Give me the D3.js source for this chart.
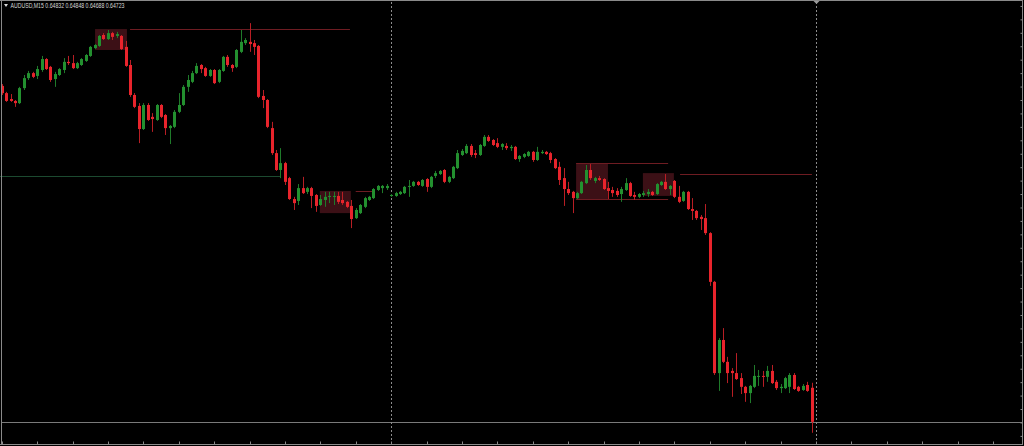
<!DOCTYPE html>
<html><head><meta charset="utf-8">
<script src="https://cdn.jsdelivr.net/npm/d3@7/dist/d3.min.js"></script>
<style>html,body{margin:0;padding:0;background:#000;overflow:hidden}</style>
</head><body><svg id="c" width="1024" height="446"></svg>
<script>
const symbol = "AUDUSD,M15";
const open = [
0.65798,0.65775,0.65756,0.65750,0.65743,0.65791,0.65823,0.65839,0.65830,0.65849,
0.65884,0.65859,0.65820,0.65833,0.65849,0.65875,0.65871,0.65855,0.65865,0.65878,
0.65894,0.65919,0.65926,0.65961,0.65948,0.65967,0.65958,0.65958,0.65923,0.65865,
0.65769,0.65734,0.65660,0.65737,0.65699,0.65689,0.65737,0.65705,0.65663,0.65667,
0.65715,0.65737,0.65795,0.65811,0.65839,0.65865,0.65855,0.65830,0.65849,0.65811,
0.65846,0.65891,0.65865,0.65859,0.65907,0.65935,0.65939,0.65935,0.65926,0.65766,
0.65753,0.65663,0.65583,0.65529,0.65551,0.65503,0.65436,0.65430,0.65471,0.65459,
0.65471,0.65449,0.65417,0.65433,0.65443,0.65443,0.65446,0.65433,0.65427,0.65414,
0.65375,0.65391,0.65411,0.65433,0.65439,0.65465,0.65471,0.65471,0.65446,0.65446,
0.65452,0.65455,0.65475,0.65478,0.65491,0.65478,0.65500,0.65475,0.65510,0.65516,
0.65529,0.65491,0.65503,0.65535,0.65577,0.65583,0.65606,0.65583,0.65577,0.65606,
0.65635,0.65625,0.65615,0.65603,0.65606,0.65599,0.65603,0.65564,0.65571,0.65574,
0.65587,0.65561,0.65583,0.65587,0.65583,0.65564,0.65539,0.65503,0.65468,0.65459,
0.65439,0.65455,0.65487,0.65529,0.65494,0.65503,0.65500,0.65471,0.65465,0.65462,
0.65452,0.65465,0.65487,0.65449,0.65443,0.65449,0.65452,0.65459,0.65452,0.65481,
0.65491,0.65468,0.65494,0.65443,0.65430,0.65459,0.65404,0.65398,0.65379,0.65375,
0.65327,0.65171,0.64879,0.64985,0.64915,0.64886,0.64879,0.64863,0.64835,0.64815,
0.64835,0.64867,0.64870,0.64867,0.64886,0.64851,0.64831,0.64831,0.64835,0.64873,
0.64835,0.64825,0.64841,0.64832];
const high = [
0.65804,0.65779,0.65772,0.65753,0.65795,0.65833,0.65846,0.65843,0.65862,0.65894,
0.65887,0.65862,0.65843,0.65855,0.65887,0.65894,0.65897,0.65875,0.65887,0.65900,
0.65926,0.65932,0.65961,0.65967,0.65977,0.65971,0.65971,0.65961,0.65942,0.65881,
0.65775,0.65743,0.65743,0.65743,0.65711,0.65740,0.65740,0.65708,0.65673,0.65721,
0.65775,0.65801,0.65833,0.65846,0.65871,0.65868,0.65859,0.65852,0.65852,0.65852,
0.65894,0.65897,0.65868,0.65916,0.65977,0.65951,0.65999,0.65945,0.65929,0.65785,
0.65756,0.65683,0.65593,0.65599,0.65555,0.65507,0.65443,0.65484,0.65507,0.65475,
0.65475,0.65452,0.65449,0.65459,0.65459,0.65459,0.65459,0.65459,0.65430,0.65433,
0.65407,0.65420,0.65443,0.65446,0.65471,0.65481,0.65481,0.65484,0.65452,0.65459,
0.65462,0.65478,0.65497,0.65494,0.65494,0.65500,0.65503,0.65510,0.65526,0.65529,
0.65532,0.65510,0.65542,0.65593,0.65596,0.65612,0.65612,0.65593,0.65612,0.65641,
0.65641,0.65628,0.65631,0.65615,0.65615,0.65609,0.65606,0.65577,0.65583,0.65590,
0.65590,0.65603,0.65593,0.65590,0.65587,0.65567,0.65555,0.65535,0.65491,0.65462,
0.65459,0.65494,0.65545,0.65548,0.65507,0.65510,0.65503,0.65491,0.65475,0.65471,
0.65475,0.65503,0.65491,0.65459,0.65455,0.65462,0.65468,0.65462,0.65487,0.65494,
0.65516,0.65481,0.65497,0.65478,0.65462,0.65462,0.65439,0.65401,0.65385,0.65420,
0.65330,0.65174,0.64991,0.65023,0.64931,0.64895,0.64943,0.64879,0.64838,0.64841,
0.64905,0.64889,0.64886,0.64902,0.64905,0.64857,0.64844,0.64867,0.64879,0.64879,
0.64838,0.64844,0.64851,0.64848];
const low = [
0.65769,0.65747,0.65747,0.65731,0.65740,0.65785,0.65817,0.65823,0.65820,0.65843,
0.65849,0.65811,0.65795,0.65830,0.65839,0.65865,0.65852,0.65852,0.65862,0.65875,
0.65891,0.65916,0.65923,0.65945,0.65945,0.65945,0.65951,0.65913,0.65859,0.65763,
0.65727,0.65615,0.65657,0.65686,0.65651,0.65686,0.65695,0.65641,0.65612,0.65663,
0.65711,0.65734,0.65779,0.65807,0.65836,0.65839,0.65827,0.65827,0.65804,0.65807,
0.65843,0.65859,0.65843,0.65855,0.65903,0.65929,0.65907,0.65897,0.65759,0.65727,
0.65663,0.65577,0.65526,0.65503,0.65481,0.65433,0.65401,0.65417,0.65452,0.65452,
0.65407,0.65395,0.65414,0.65411,0.65423,0.65417,0.65420,0.65417,0.65407,0.65343,
0.65372,0.65388,0.65407,0.65430,0.65436,0.65462,0.65455,0.65465,0.65443,0.65443,
0.65449,0.65452,0.65443,0.65475,0.65478,0.65475,0.65459,0.65471,0.65503,0.65513,
0.65487,0.65487,0.65500,0.65532,0.65574,0.65580,0.65571,0.65567,0.65574,0.65603,
0.65619,0.65606,0.65599,0.65593,0.65593,0.65590,0.65561,0.65555,0.65567,0.65571,
0.65555,0.65558,0.65580,0.65577,0.65551,0.65532,0.65481,0.65414,0.65449,0.65391,
0.65436,0.65452,0.65484,0.65497,0.65487,0.65494,0.65465,0.65436,0.65443,0.65443,
0.65427,0.65462,0.65443,0.65433,0.65439,0.65443,0.65443,0.65446,0.65449,0.65478,
0.65465,0.65449,0.65439,0.65423,0.65427,0.65401,0.65369,0.65369,0.65337,0.65321,
0.65158,0.64873,0.64822,0.64911,0.64847,0.64803,0.64857,0.64812,0.64787,0.64783,
0.64831,0.64838,0.64835,0.64851,0.64844,0.64825,0.64815,0.64828,0.64815,0.64825,
0.64819,0.64822,0.64819,0.64688];
const close = [
0.65775,0.65750,0.65750,0.65743,0.65791,0.65823,0.65839,0.65827,0.65852,0.65884,
0.65852,0.65817,0.65836,0.65852,0.65875,0.65871,0.65855,0.65871,0.65884,0.65897,
0.65923,0.65929,0.65958,0.65948,0.65967,0.65955,0.65964,0.65916,0.65862,0.65769,
0.65731,0.65660,0.65737,0.65689,0.65692,0.65737,0.65699,0.65663,0.65670,0.65715,
0.65737,0.65795,0.65817,0.65839,0.65862,0.65852,0.65830,0.65849,0.65807,0.65849,
0.65891,0.65865,0.65855,0.65913,0.65939,0.65945,0.65932,0.65923,0.65763,0.65753,
0.65667,0.65583,0.65529,0.65551,0.65491,0.65436,0.65423,0.65471,0.65455,0.65471,
0.65446,0.65414,0.65436,0.65443,0.65446,0.65446,0.65427,0.65423,0.65411,0.65372,
0.65401,0.65417,0.65439,0.65443,0.65468,0.65478,0.65478,0.65478,0.65449,0.65455,
0.65459,0.65475,0.65478,0.65491,0.65481,0.65497,0.65475,0.65507,0.65519,0.65526,
0.65491,0.65507,0.65539,0.65583,0.65590,0.65606,0.65577,0.65577,0.65609,0.65635,
0.65622,0.65609,0.65603,0.65612,0.65599,0.65603,0.65564,0.65574,0.65580,0.65587,
0.65561,0.65587,0.65587,0.65580,0.65561,0.65535,0.65497,0.65468,0.65455,0.65439,
0.65455,0.65491,0.65529,0.65503,0.65503,0.65497,0.65468,0.65462,0.65455,0.65449,
0.65468,0.65487,0.65446,0.65443,0.65452,0.65455,0.65459,0.65449,0.65484,0.65491,
0.65468,0.65478,0.65443,0.65427,0.65459,0.65404,0.65398,0.65375,0.65372,0.65327,
0.65171,0.64879,0.64985,0.64915,0.64879,0.64879,0.64860,0.64835,0.64815,0.64838,
0.64870,0.64870,0.64867,0.64886,0.64847,0.64831,0.64835,0.64863,0.64873,0.64828,
0.64822,0.64838,0.64822,0.64723];

// zones: start bar, end bar, top price, bottom price
const zoneStart = [21.1, 71.9, 129.8, 144.9];
const zoneEnd   = [28.3, 78.9, 137.0, 151.9];
const zoneTop   = [0.65980, 0.65462, 0.65551, 0.65519];
const zoneBot   = [0.65913, 0.65391, 0.65436, 0.65446];
// level lines: start bar, end bar, price, kind
const lvlStart = [-1, 29, 80, 129.8, 129.8, 153.3];
const lvlEnd   = [62.9, 78.7, 83.7, 150.6, 150.6, 183.1];
const lvlPrice = [0.65511, 0.65980, 0.65462, 0.65551, 0.65436, 0.65516];
const lvlKind  = ["g", "r", "r", "r", "r", "r"];
const separators = [88, 184];
const priceTicks = [0.66054, 0.66011, 0.65968, 0.65925, 0.65882, 0.65839, 0.65796, 0.65753,
  0.65710, 0.65667, 0.65624, 0.65581, 0.65538, 0.65495, 0.65452, 0.65409, 0.65366, 0.65323,
  0.65280, 0.65237, 0.65194, 0.65151, 0.65108, 0.65065, 0.65022, 0.64979, 0.64936, 0.64893,
  0.64850, 0.64807, 0.64764, 0.64721, 0.64678];

const svg = d3.select("#c");
const W = 1024, H = 446;
svg.append("rect").attr("width", W).attr("height", H).attr("fill", "#000");

const x = d3.scaleLinear().domain([0, 183]).range([1.7, 811.5]);
const y = d3.scaleLinear().domain([0.66073, 0.64646]).range([0, 445.9]);

// zones
const zg = svg.append("g");
zoneStart.forEach((s, k) => {
  zg.append("rect")
    .attr("x", x(s)).attr("width", x(zoneEnd[k]) - x(s))
    .attr("y", y(zoneTop[k])).attr("height", y(zoneBot[k]) - y(zoneTop[k]))
    .attr("fill", "#3c1016");
});
// levels
lvlStart.forEach((s, k) => {
  const yy = Math.round(y(lvlPrice[k])) + 0.5;
  svg.append("line")
    .attr("x1", Math.max(0, x(s))).attr("x2", x(lvlEnd[k]))
    .attr("y1", yy).attr("y2", yy)
    .attr("stroke", lvlKind[k] === "g" ? "#1c4a30" : "#6e1c22")
    .attr("stroke-width", 1);
});

// bid line
const by = Math.round(y(close[close.length - 1])) + 0.5;
svg.append("line").attr("x1", 1).attr("x2", 1022).attr("y1", by).attr("y2", by)
  .attr("stroke", "#7a7a7a").attr("stroke-width", 1);

// separators
separators.forEach(s => {
  const xx = Math.round(x(s)) + 0.5;
  svg.append("line").attr("x1", xx).attr("x2", xx).attr("y1", 2).attr("y2", 444)
    .attr("stroke", "#8c8c8c").attr("stroke-width", 1).attr("stroke-dasharray", "2,2");
});

// candles
const idx = d3.range(open.length);
const cg = svg.append("g");
const up = i => close[i] >= open[i];
cg.selectAll("line.w").data(idx).join("line")
  .attr("class", "w")
  .attr("x1", i => Math.round(x(i)) + 0.5).attr("x2", i => Math.round(x(i)) + 0.5)
  .attr("y1", i => y(high[i])).attr("y2", i => y(low[i]))
  .attr("stroke", i => up(i) ? "#1f7a2a" : "#b81e24").attr("stroke-width", 1);
cg.selectAll("rect.b").data(idx).join("rect")
  .attr("class", "b")
  .attr("x", i => Math.round(x(i)) - 1).attr("width", 3)
  .attr("y", i => y(Math.max(open[i], close[i])))
  .attr("height", i => Math.max(1, Math.abs(y(open[i]) - y(close[i]))))
  .attr("fill", i => up(i) ? "#23902f" : "#e8242c");

// frame
svg.append("line").attr("x1", 1.5).attr("x2", 1.5).attr("y1", 0).attr("y2", 445).attr("stroke", "#8a8a8a");
svg.append("line").attr("x1", 0).attr("x2", 1023).attr("y1", 0.5).attr("y2", 0.5).attr("stroke", "#8a8a8a");

// right axis ticks (no labels)
const axR = d3.axisLeft(y).tickValues(priceTicks).tickSize(2).tickFormat("");
const gR = svg.append("g").attr("transform", "translate(1022.5,0)").call(axR);
gR.select(".domain").remove();
gR.selectAll("line").attr("stroke", "#8a8a8a");
svg.append("line").attr("x1", 1022.5).attr("x2", 1022.5).attr("y1", 0).attr("y2", 445).attr("stroke", "#8a8a8a");

// bottom axis (ticks every 8 bars, no labels)
const tickBars = d3.range(0, 232, 8);
const axB = d3.axisBottom(x).tickValues(tickBars).tickSize(-3).tickFormat("");
const gB = svg.append("g").attr("transform", "translate(0,444.5)").call(axB);
gB.select(".domain").remove();
gB.selectAll("line").attr("stroke", "#8a8a8a");
gB.selectAll(".tick").attr("transform", d => `translate(${Math.round(x(d)) + 0.5},0)`);
svg.append("line").attr("x1", 0).attr("x2", 1023).attr("y1", 444.5).attr("y2", 444.5).attr("stroke", "#8a8a8a");

// shift marker
const sx = Math.round(x(separators[1])) + 0.5;
svg.append("path").attr("d", `M${sx - 3},1 L${sx + 3},1 L${sx},4 Z`).attr("fill", "#9a9a9a");

// title
const last = open.length - 1;
const fmt = d3.format(".5f");
const t = svg.append("g").attr("font-family", "Liberation Sans, Arial, sans-serif").attr("font-size", 6.5).attr("fill", "#d8d8d8");
t.append("path").attr("d", "M4,4 L8,4 L6,7 Z").attr("fill", "#d8d8d8");
t.append("text").attr("x", 10.5).attr("y", 8)
  .attr("textLength", 114).attr("lengthAdjust", "spacingAndGlyphs")
  .text(`${symbol}  ${fmt(open[last])} ${fmt(high[last])} ${fmt(low[last])} ${fmt(close[last])}`);
</script></body></html>
